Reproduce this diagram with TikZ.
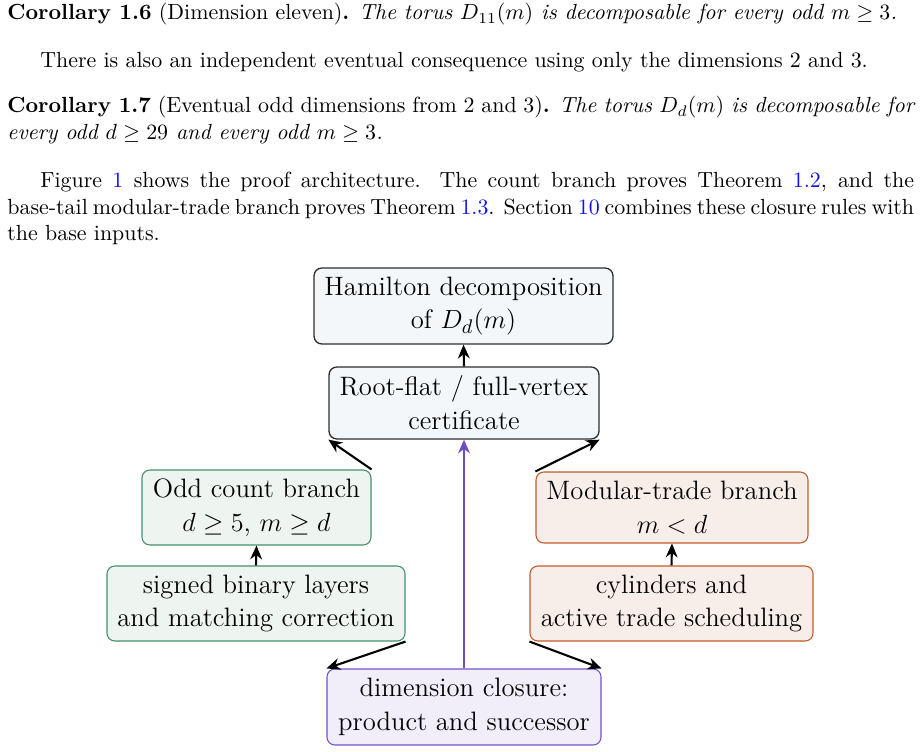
\documentclass[tikz,border=0pt]{standalone}
\usepackage{amsmath,amssymb}
\usetikzlibrary{arrows.meta}
\definecolor{topfill}{HTML}{F3F7FA}
\definecolor{topdraw}{HTML}{2E2E2E}
\definecolor{grfill}{HTML}{EEF4F0}
\definecolor{grdraw}{HTML}{45906C}
\definecolor{orfill}{HTML}{F8EEE9}
\definecolor{ordraw}{HTML}{C55A28}
\definecolor{pufill}{HTML}{F1EEF9}
\definecolor{pudraw}{HTML}{7352C9}
\definecolor{linkblue}{HTML}{1010F0}
\tikzset{
  para/.style={anchor=base west, inner sep=0pt, text width=414pt, align=justify, font=\fontsize{10}{12}\selectfont},
  nbox/.style={rounded corners=3.6pt, line width=0.5pt, align=center, inner sep=2pt, font=\fontsize{12.15}{15.4}\selectfont},
  topbox/.style={nbox, draw=topdraw, fill=topfill, line width=0.6pt},
  grbox/.style={nbox, draw=grdraw, fill=grfill},
  orbox/.style={nbox, draw=ordraw, fill=orfill},
  pubox/.style={nbox, draw=pudraw, fill=pufill},
  arr/.style={line width=0.95pt, -{Stealth[length=6.3pt,width=5.4pt]}},
  parr/.style={arr, draw=pudraw!95!black}
}
\begin{document}
\begin{tikzpicture}[x=0.4566pt, y=-0.4566pt]
\useasboundingbox (0,0) rectangle (921,752);
% text
\node[para] (p1) at (7,20) {\textbf{Corollary 1.6} (Dimension eleven)\textbf{.} \textit{The torus $D_{11}(m)$ is decomposable for every odd $m\geq 3$.}};
\node[para] (p2) at (7,68) {\hspace*{15pt}There is also an independent eventual consequence using only the dimensions 2 and 3.};
\node[para] (p3) at (7,113) {\textbf{Corollary 1.7} (Eventual odd dimensions from 2 and 3)\textbf{.} \textit{The torus $D_d(m)$ is decomposable for\linebreak every odd $d\geq 29$ and every odd $m\geq 3$.}};
\node[para] (p4) at (7,188) {\hspace*{15pt}Figure \textcolor{linkblue}{1} shows the proof architecture.  The count branch proves Theorem \textcolor{linkblue}{1.2}, and the\linebreak base-tail modular-trade branch proves Theorem \textcolor{linkblue}{1.3}. Section \textcolor{linkblue}{10} combines these closure rules with\linebreak the base inputs.};
% diagram
\node[topbox, minimum width=299*0.4566pt, minimum height=76*0.4566pt] (ham) at (463.5,306) {Hamilton decomposition\\ of $D_d(m)$};
\node[topbox, minimum width=270*0.4566pt, minimum height=72*0.4566pt] (root) at (464,403) {Root-flat / full-vertex\\ certificate};
\node[grbox, minimum width=229*0.4566pt, minimum height=75*0.4566pt] (odd) at (256.5,507.5) {Odd count branch\\ $d\geq 5$, $m\geq d$};
\node[grbox, minimum width=298*0.4566pt, minimum height=75*0.4566pt] (sig) at (256,603.5) {signed binary layers\\ and matching correction};
\node[orbox, minimum width=272*0.4566pt, minimum height=71*0.4566pt] (mod) at (672,507.5) {Modular-trade branch\\ $m<d$};
\node[orbox, minimum width=283*0.4566pt, minimum height=75*0.4566pt] (cyl) at (671.5,603.5) {cylinders and\\ active trade scheduling};
\node[pubox, minimum width=274*0.4566pt, minimum height=76*0.4566pt] (clo) at (464,707) {dimension closure:\\ product and successor};
% connectors
\draw[arr] (root.north) -- (ham.south);
\draw[arr] (odd.north east) -- (root.south west);
\draw[arr] (mod.north west) -- (root.south east);
\draw[arr] (sig.north) -- (odd.south);
\draw[arr] (cyl.north) -- (mod.south);
\draw[arr] (sig.south east) -- (clo.north west);
\draw[arr] (cyl.south west) -- (clo.north east);
\draw[parr] (clo.north) -- (root.south);
\end{tikzpicture}
\end{document}
